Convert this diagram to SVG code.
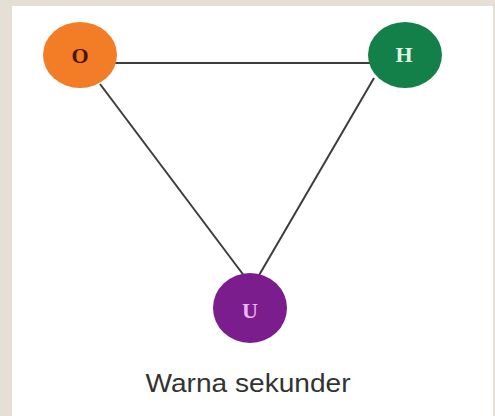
<svg xmlns="http://www.w3.org/2000/svg" width="495" height="416" viewBox="0 0 495 416">
<style>
.edge{stroke:#3c3c3c;stroke-width:2;fill:none}
.lbl{font-family:"Liberation Serif",serif;font-weight:bold;font-size:22px;text-anchor:middle}
.cap{font-family:"Liberation Sans",Arial,sans-serif;font-size:25px;fill:#333;text-anchor:middle}
</style>
<rect x="0" y="0" width="495" height="416" fill="#e6dfd5"/>
<rect x="12" y="6" width="481" height="410" fill="#ffffff"/>
<g id="connectors">
<line class="edge" x1="115" y1="63" x2="372" y2="63"/>
<line class="edge" x1="100" y1="84" x2="245" y2="277"/>
<line class="edge" x1="374" y1="78" x2="258" y2="277"/>
</g>
<g id="node-O">
<ellipse cx="80" cy="55" rx="37" ry="33" fill="#f27d26"/>
<text class="lbl" x="80" y="63" fill="#4a1500">O</text>
</g>
<g id="node-H">
<ellipse cx="405" cy="55" rx="37" ry="33" fill="#13804a"/>
<text class="lbl" x="404" y="62" fill="#dff5e4">H</text>
</g>
<g id="node-U">
<ellipse cx="250" cy="308" rx="37" ry="35" fill="#7c1d8e"/>
<text class="lbl" x="250" y="318" fill="#e8b8f2">U</text>
</g>
<text class="cap" x="248" y="392" textLength="205" lengthAdjust="spacingAndGlyphs">Warna sekunder</text>
</svg>
